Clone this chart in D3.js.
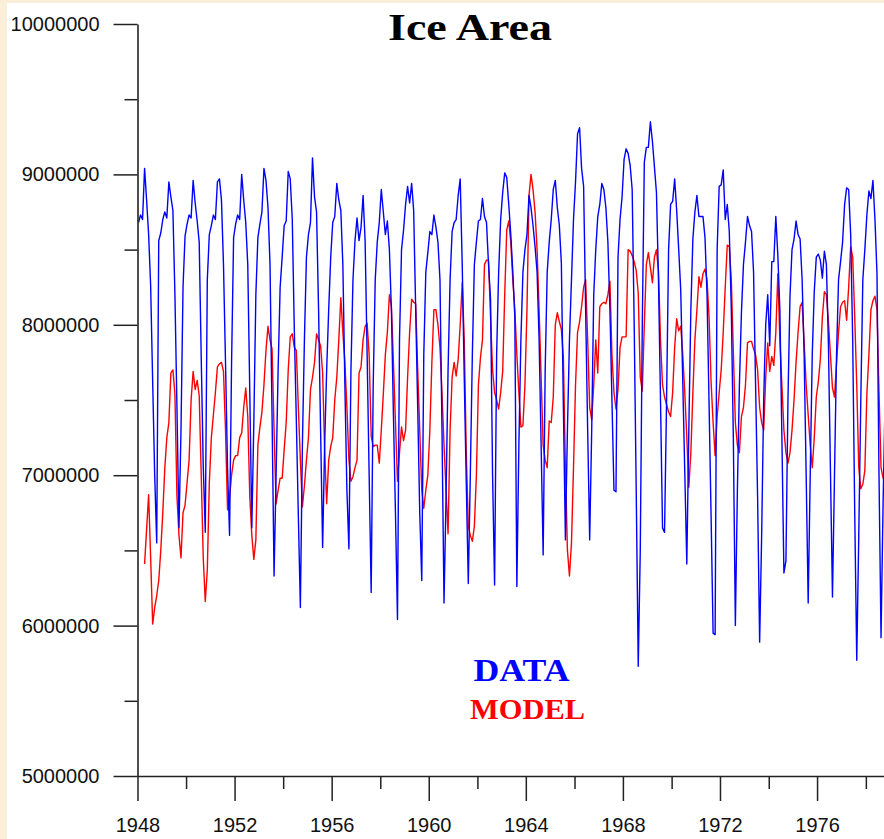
<!DOCTYPE html>
<html>
<head>
<meta charset="utf-8">
<script src="https://cdn.jsdelivr.net/npm/d3@7"></script>
<style>
  html, body { margin: 0; padding: 0; background: #fcefd9; }
  svg { display: block; }
</style>
</head>
<body>
<svg width="884" height="839"></svg>
<script>
// monthly ice area, millions, one row per year (Jan..Dec), starting 1948
var startYear = 1948;

var dataArea = [
  [8.68, 8.73, 8.70, 9.04, 8.83, 8.60, 8.26, 7.62, 7.00, 6.55, 8.56, 8.61], // 1948
  [8.70, 8.75, 8.71, 8.95, 8.85, 8.76, 8.20, 7.45, 6.65, 7.30, 8.25, 8.59],
  [8.67, 8.73, 8.71, 8.96, 8.81, 8.69, 8.55, 7.78, 7.06, 6.62, 8.30, 8.60],
  [8.66, 8.73, 8.70, 8.95, 8.97, 8.83, 8.40, 7.75, 7.05, 6.60, 7.75, 8.58],
  [8.67, 8.73, 8.70, 9.00, 8.83, 8.68, 8.40, 7.55, 6.65, 7.35, 8.20, 8.58], // 1952
  [8.67, 8.75, 9.04, 8.96, 8.78, 8.40, 7.40, 6.33, 7.00, 7.70, 8.25, 8.45],
  [8.66, 8.69, 9.02, 8.97, 8.70, 7.97, 7.37, 6.73, 6.12, 7.20, 7.90, 8.45],
  [8.60, 8.68, 9.11, 8.85, 8.75, 8.10, 7.30, 6.52, 7.20, 7.70, 8.10, 8.45],
  [8.68, 8.72, 8.94, 8.83, 8.76, 8.40, 7.60, 6.90, 6.51, 7.70, 8.30, 8.56], // 1956
  [8.71, 8.56, 8.65, 8.86, 8.56, 7.80, 7.00, 6.22, 7.60, 8.30, 8.55, 8.68],
  [8.90, 8.75, 8.60, 8.69, 8.50, 8.10, 7.40, 6.75, 6.04, 7.90, 8.50, 8.63],
  [8.80, 8.92, 8.81, 8.94, 8.76, 8.10, 7.45, 6.75, 6.30, 7.80, 8.35, 8.48],
  [8.62, 8.60, 8.73, 8.65, 8.55, 8.30, 7.30, 6.15, 6.85, 7.70, 8.30, 8.62], // 1960
  [8.68, 8.70, 8.86, 8.97, 8.40, 7.65, 6.95, 6.28, 7.00, 7.80, 8.40, 8.55],
  [8.69, 8.70, 8.84, 8.72, 8.68, 8.40, 8.17, 7.00, 6.27, 7.80, 8.35, 8.70],
  [8.88, 9.01, 8.98, 8.80, 8.60, 8.35, 8.05, 6.26, 7.20, 7.90, 8.35, 8.50],
  [8.60, 8.86, 8.78, 8.66, 8.52, 8.35, 7.90, 7.20, 6.47, 7.70, 8.35, 8.55], // 1964
  [8.70, 8.90, 8.96, 8.78, 8.66, 8.41, 7.45, 6.57, 7.30, 7.90, 8.30, 8.70],
  [8.95, 9.27, 9.31, 9.04, 8.92, 8.10, 7.30, 6.57, 7.30, 8.20, 8.50, 8.72],
  [8.80, 8.94, 8.90, 8.78, 8.55, 8.10, 7.50, 6.90, 6.89, 8.45, 8.70, 8.85],
  [9.10, 9.17, 9.14, 9.06, 8.90, 8.00, 6.90, 5.73, 6.50, 8.00, 9.08, 9.18], // 1968
  [9.18, 9.35, 9.22, 9.05, 8.88, 8.30, 7.50, 6.65, 6.62, 7.50, 8.50, 8.80],
  [8.82, 8.97, 8.76, 8.50, 8.23, 7.63, 7.02, 6.41, 7.30, 8.10, 8.57, 8.75],
  [8.86, 8.72, 8.72, 8.72, 8.58, 8.20, 7.48, 6.73, 5.95, 5.94, 8.50, 8.92],
  [8.93, 9.03, 8.70, 8.80, 8.62, 8.10, 7.25, 6.00, 6.90, 7.60, 8.08, 8.40], // 1972
  [8.55, 8.72, 8.66, 8.62, 8.35, 7.60, 6.85, 5.89, 6.60, 7.50, 8.00, 8.20],
  [7.86, 8.42, 8.42, 8.72, 8.46, 8.10, 7.25, 6.35, 6.43, 7.50, 8.19, 8.50],
  [8.57, 8.69, 8.60, 8.57, 8.30, 7.80, 7.00, 6.15, 7.00, 7.80, 8.22, 8.45],
  [8.47, 8.43, 8.31, 8.49, 8.40, 7.87, 7.03, 6.19, 7.00, 7.80, 8.30, 8.42], // 1976
  [8.55, 8.80, 8.91, 8.90, 8.60, 7.90, 6.75, 5.77, 6.60, 7.50, 8.30, 8.50],
  [8.73, 8.89, 8.84, 8.96, 8.70, 8.34, 7.00, 5.92, 6.80, 7.50]
];

var modelArea = [
  [null, null, null, 6.41, 6.64, 6.87, 6.45, 6.01, 6.12, 6.20, 6.30, 6.50], // 1948
  [6.75, 7.05, 7.25, 7.35, 7.68, 7.70, 7.54, 6.86, 6.60, 6.45, 6.75, 6.80],
  [6.95, 7.10, 7.50, 7.69, 7.57, 7.63, 7.53, 7.00, 6.45, 6.16, 6.37, 6.95],
  [7.25, 7.40, 7.55, 7.72, 7.74, 7.75, 7.69, 7.30, 6.77, 6.85, 7.00, 7.10],
  [7.13, 7.13, 7.25, 7.28, 7.45, 7.58, 7.39, 6.86, 6.60, 6.44, 6.57, 7.20], // 1952
  [7.32, 7.42, 7.60, 7.83, 7.99, 7.90, 7.84, 7.30, 6.81, 6.90, 6.98, 6.98],
  [7.17, 7.35, 7.70, 7.92, 7.94, 7.85, 7.83, 7.45, 7.10, 6.79, 6.93, 7.10],
  [7.25, 7.57, 7.65, 7.75, 7.94, 7.90, 7.86, 7.68, 7.17, 6.81, 7.10, 7.19],
  [7.25, 7.50, 7.65, 7.90, 8.18, 7.95, 7.75, 7.45, 7.10, 6.96, 6.99, 7.05], // 1956
  [7.10, 7.68, 7.72, 7.90, 7.99, 8.01, 7.80, 7.26, 7.19, 7.20, 7.20, 7.08],
  [7.30, 7.54, 7.80, 7.95, 8.20, 8.12, 7.75, 7.35, 6.96, 7.15, 7.32, 7.23],
  [7.30, 7.65, 7.95, 8.17, 8.15, 8.14, 7.70, 7.30, 6.90, 6.78, 6.90, 7.00],
  [7.30, 7.75, 8.10, 8.10, 8.00, 7.85, 7.55, 7.20, 6.90, 6.61, 7.30, 7.65], // 1960
  [7.75, 7.66, 7.77, 8.00, 8.28, 7.90, 7.15, 6.66, 6.60, 6.56, 6.66, 7.00],
  [7.60, 7.78, 7.90, 8.40, 8.43, 8.43, 8.05, 7.70, 7.55, 7.50, 7.44, 7.55],
  [7.69, 8.20, 8.63, 8.69, 8.55, 8.30, 8.10, 7.80, 7.55, 7.32, 7.33, 7.60],
  [8.10, 8.86, 9.00, 8.90, 8.75, 8.50, 8.10, 7.65, 7.20, 7.10, 7.05, 7.36], // 1964
  [7.35, 7.52, 8.00, 8.08, 8.02, 7.97, 7.78, 7.05, 6.50, 6.33, 6.55, 7.05],
  [7.60, 7.95, 8.02, 8.12, 8.25, 8.30, 7.90, 7.45, 7.37, 7.60, 7.90, 7.68],
  [8.12, 8.14, 8.15, 8.14, 8.20, 8.29, 7.80, 7.55, 7.44, 7.57, 7.85, 7.92],
  [7.92, 7.92, 8.50, 8.49, 8.46, 8.42, 8.36, 8.21, 7.65, 7.56, 8.00, 8.40], // 1968
  [8.48, 8.38, 8.28, 8.45, 8.50, 8.36, 7.90, 7.60, 7.52, 7.47, 7.42, 7.39],
  [7.55, 7.85, 8.04, 7.96, 7.99, 7.80, 7.55, 7.25, 6.92, 7.15, 7.55, 7.90],
  [8.10, 8.32, 8.25, 8.34, 8.37, 8.30, 8.05, 7.62, 7.35, 7.13, 7.39, 7.55],
  [7.70, 7.95, 8.25, 8.53, 8.52, 8.30, 7.82, 7.35, 7.20, 7.15, 7.39, 7.45], // 1972
  [7.60, 7.88, 7.89, 7.89, 7.84, 7.80, 7.70, 7.45, 7.35, 7.30, 7.65, 7.88],
  [7.69, 7.79, 7.73, 7.95, 8.34, 7.90, 7.60, 7.30, 7.15, 7.08, 7.15, 7.30],
  [7.50, 7.75, 7.95, 8.12, 8.15, 7.88, 7.60, 7.40, 7.20, 7.05, 7.25, 7.52],
  [7.62, 7.77, 8.05, 8.22, 8.20, 8.02, 7.80, 7.58, 7.52, 7.74, 7.95, 8.12], // 1976
  [8.15, 8.16, 8.03, 8.25, 8.52, 8.45, 8.05, 7.60, 7.05, 6.91, 6.94, 7.03],
  [7.54, 7.80, 8.10, 8.16, 8.19, 8.10, 7.55, 7.05, 6.98, 7.02]
];

var yMajor = [5000000, 6000000, 7000000, 8000000, 9000000, 10000000];
var yMinor = [5500000, 6500000, 7500000, 8500000, 9500000];
var xMajor = [1948, 1952, 1956, 1960, 1964, 1968, 1972, 1976];
var xMinor = [1950, 1954, 1958, 1962, 1966, 1970, 1974, 1978];

function toPoints(rows) {
  var pts = [];
  rows.forEach(function(row, yi) {
    row.forEach(function(v, mi) {
      if (v != null) pts.push({t: startYear + yi + (mi + 0.5) / 12, v: v * 1e6});
    });
  });
  return pts;
}

var svg = d3.select("svg");

// white panel over the cream page
svg.append("rect").attr("x", 7).attr("y", 3).attr("width", 877).attr("height", 836).attr("fill", "#fff");

var x = d3.scaleLinear().domain([1948, 1976]).range([137.5, 817.3]);
var y = d3.scaleLinear().domain([5000000, 10000000]).range([776, 24]);

svg.append("clipPath").attr("id", "plot")
  .append("rect").attr("x", 137).attr("y", 0).attr("width", 747).attr("height", 776);

var line = d3.line()
  .x(function(d) { return x(d.t); })
  .y(function(d) { return y(d.v); });

var g = svg.append("g").attr("clip-path", "url(#plot)");

g.append("path")
  .datum(toPoints(modelArea))
  .attr("fill", "none")
  .attr("stroke", "#ff0000")
  .attr("stroke-width", 1.4)
  .attr("stroke-linejoin", "round")
  .attr("d", line);

g.append("path")
  .datum(toPoints(dataArea))
  .attr("fill", "none")
  .attr("stroke", "#0000ff")
  .attr("stroke-width", 1.4)
  .attr("stroke-linejoin", "round")
  .attr("d", line);

// axes
var axisColor = "#222";

var yAxis = svg.append("g")
  .attr("transform", "translate(137.5,0)")
  .call(d3.axisLeft(y).tickValues(yMajor).tickSize(24).tickSizeOuter(0).tickPadding(14).tickFormat(d3.format("d")));

svg.append("g")
  .attr("transform", "translate(137.5,0)")
  .call(d3.axisLeft(y).tickValues(yMinor).tickSize(13).tickSizeOuter(0).tickFormat(""))
  .select(".domain").remove();

var xAxis = svg.append("g")
  .attr("transform", "translate(0,776)")
  .call(d3.axisBottom(x.copy().domain([1948, 1979]).range([137.5, 137.5 + 31 * 24.27]))
    .tickValues(xMajor).tickSize(25).tickSizeOuter(0).tickPadding(17).tickFormat(d3.format("d")));

svg.append("g")
  .attr("transform", "translate(0,776)")
  .call(d3.axisBottom(x).tickValues(xMinor).tickSize(13).tickSizeOuter(0).tickFormat(""))
  .select(".domain").remove();

svg.selectAll(".domain").attr("stroke", axisColor).attr("stroke-width", 1.6);
svg.selectAll(".tick line").attr("stroke", axisColor).attr("stroke-width", 1.5);
svg.selectAll(".tick text")
  .attr("fill", "#111")
  .style("font-family", "'Liberation Sans', Arial, sans-serif")
  .style("font-size", "20px");

// title and legend
svg.append("text")
  .attr("x", 470).attr("y", 40)
  .attr("text-anchor", "middle")
  .attr("textLength", 164).attr("lengthAdjust", "spacingAndGlyphs")
  .style("font-family", "'Liberation Serif', 'Times New Roman', serif")
  .style("font-weight", "bold").style("font-size", "38px")
  .text("Ice Area");

svg.append("text")
  .attr("x", 521.5).attr("y", 680.5)
  .attr("text-anchor", "middle")
  .attr("fill", "#0000ff")
  .attr("textLength", 96).attr("lengthAdjust", "spacingAndGlyphs")
  .style("font-family", "'Liberation Serif', 'Times New Roman', serif")
  .style("font-weight", "bold").style("font-size", "31px")
  .text("DATA");

svg.append("text")
  .attr("x", 527.5).attr("y", 719)
  .attr("text-anchor", "middle")
  .attr("fill", "#ff0000")
  .attr("textLength", 115).attr("lengthAdjust", "spacingAndGlyphs")
  .style("font-family", "'Liberation Serif', 'Times New Roman', serif")
  .style("font-weight", "bold").style("font-size", "30px")
  .text("MODEL");
</script>
</body>
</html>
